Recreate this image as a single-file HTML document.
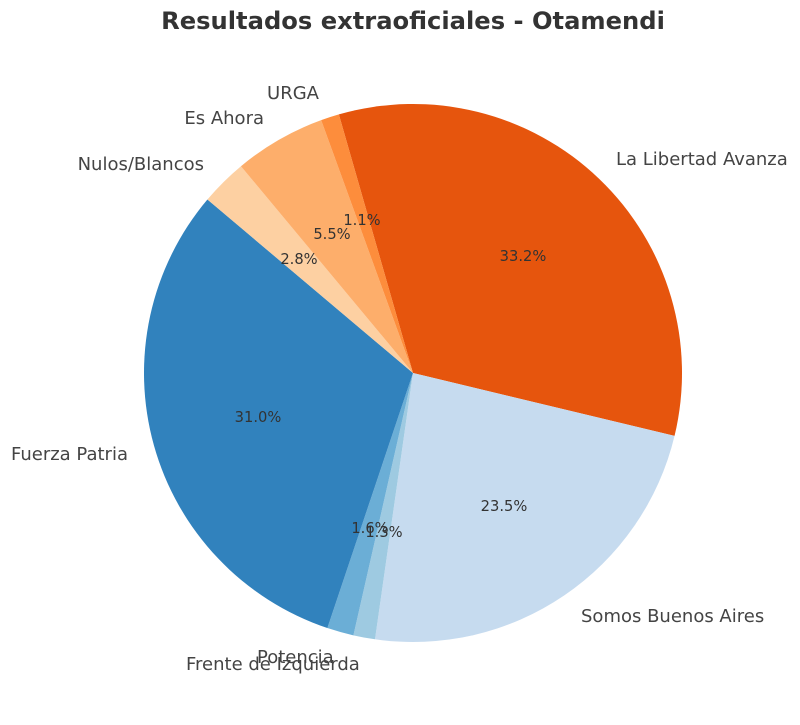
<!DOCTYPE html>
<html><head><meta charset="utf-8"><style>
html,body{margin:0;padding:0;background:#fff;}
svg text{font-family:"DejaVu Sans","Liberation Sans",sans-serif;}
</style></head><body>
<svg id="s" width="800" height="720" xmlns="http://www.w3.org/2000/svg">
<text x="413" y="29" text-anchor="middle" font-size="24.2" font-weight="bold" fill="#333">Resultados extraoficiales - Otamendi</text>
<g id="w"></g>
<g font-size="18" fill="#444">
<text x="616" y="165">La Libertad Avanza</text>
<text x="581" y="622">Somos Buenos Aires</text>
<text x="186" y="670">Frente de Izquierda</text>
<text x="257" y="663">Potencia</text>
<text x="128" y="460" text-anchor="end">Fuerza Patria</text>
<text x="204" y="170" text-anchor="end">Nulos/Blancos</text>
<text x="264" y="124" text-anchor="end">Es Ahora</text>
<text x="319" y="99" text-anchor="end">URGA</text>
</g>
<g font-size="14.7" fill="#333" text-anchor="middle">
<text x="523" y="261">33.2%</text>
<text x="504" y="511">23.5%</text>
<text x="384" y="537">1.3%</text>
<text x="370" y="533">1.6%</text>
<text x="258" y="422">31.0%</text>
<text x="299" y="264">2.8%</text>
<text x="332" y="239">5.5%</text>
<text x="362" y="225">1.1%</text>
</g>
</svg>
<script>
var cx=413,cy=373,r=269,a=106;
var d=[[33.2,"#e6550d"],[23.5,"#c6dbef"],[1.3,"#9ecae1"],[1.6,"#6baed6"],[31.0,"#3182bd"],[2.8,"#fdd0a2"],[5.5,"#fdae6b"],[1.1,"#fd8d3c"]];
var g=document.getElementById("w"),h="";
d.forEach(function(s){var b=a-s[0]*3.6;
var x1=cx+r*Math.cos(a*Math.PI/180),y1=cy-r*Math.sin(a*Math.PI/180);
var x2=cx+r*Math.cos(b*Math.PI/180),y2=cy-r*Math.sin(b*Math.PI/180);
var L=(a-b)>180?1:0;
h+='<path d="M'+cx+','+cy+' L'+x1+','+y1+' A'+r+','+r+' 0 '+L+' 1 '+x2+','+y2+' Z" fill="'+s[1]+'"/>';
a=b;});
g.innerHTML=h;
</script>
</body></html>
